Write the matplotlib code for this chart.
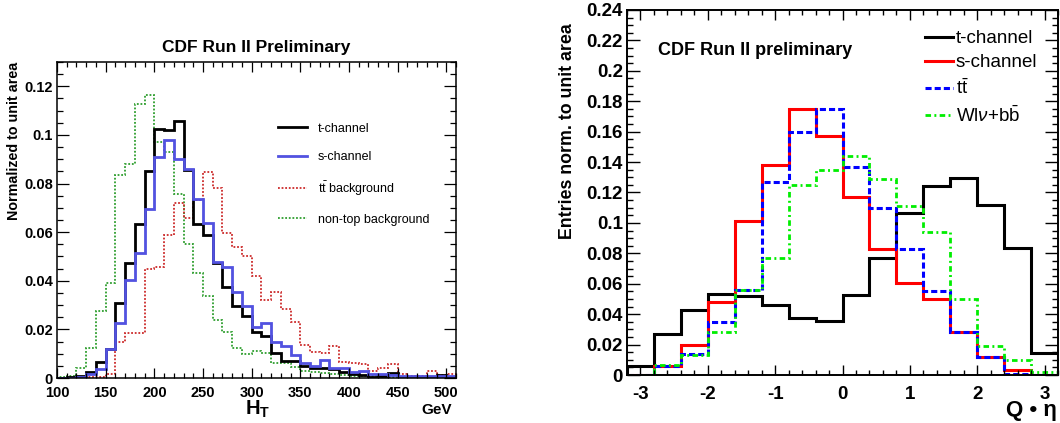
import numpy as np
import matplotlib
matplotlib.use('Agg')
import matplotlib.pyplot as plt
from matplotlib.ticker import MultipleLocator, FuncFormatter

plt.rcParams['font.family'] = 'Liberation Sans'
plt.rcParams['mathtext.fontset'] = 'custom'
plt.rcParams['mathtext.rm'] = 'Liberation Sans'
plt.rcParams['mathtext.it'] = 'Liberation Sans:italic'
plt.rcParams['mathtext.bf'] = 'Liberation Sans:bold'
plt.rcParams['axes.unicode_minus'] = False

# ---- left panel: H_T, 10 GeV bins from 100 to 510
ht_edges = np.arange(100, 520, 10)
ht_tchan = [0.0, 0.0003, 0.0010, 0.0024, 0.0065, 0.0118, 0.0310, 0.0474, 0.0633, 0.0852,
            0.1026, 0.1019, 0.1058, 0.0855, 0.0633, 0.0590, 0.0475, 0.0373, 0.0296, 0.0256,
            0.0188, 0.0173, 0.0101, 0.0071, 0.0071, 0.0050, 0.0042, 0.0040, 0.0036, 0.0023,
            0.0016, 0.0014, 0.0006, 0.0008, 0.0020, 0.0006, 0.0005, 0.0004, 0.0003, 0.0012,
            0.0004]
ht_schan = [0.0, 0.0, 0.0006, 0.0018, 0.0036, 0.0120, 0.0225, 0.0405, 0.0515, 0.0697,
            0.0910, 0.0978, 0.0903, 0.0859, 0.0738, 0.0638, 0.0478, 0.0458, 0.0352, 0.0296,
            0.0210, 0.0225, 0.0150, 0.0133, 0.0095, 0.0060, 0.0050, 0.0074, 0.0042, 0.0040,
            0.0026, 0.0028, 0.0016, 0.0016, 0.0012, 0.0008, 0.0010, 0.0009, 0.0008, 0.0008,
            0.0008]
ht_ttbar = [0.0, 0.0002, 0.0003, 0.0003, 0.0005, 0.0015, 0.0149, 0.0186, 0.0186, 0.0447,
            0.0455, 0.0590, 0.0720, 0.0660, 0.0734, 0.0848, 0.0780, 0.0595, 0.0540, 0.0500,
            0.0420, 0.0320, 0.0352, 0.0282, 0.0229, 0.0136, 0.0108, 0.0101, 0.0133, 0.0067,
            0.0063, 0.0056, 0.0029, 0.0042, 0.0056, 0.0015, 0.0008, 0.0010, 0.0030, 0.0012,
            0.0016]
ht_nontop = [0.0003, 0.0010, 0.0040, 0.0122, 0.0275, 0.0390, 0.0834, 0.0880, 0.1126, 0.1163,
             0.0970, 0.0930, 0.0756, 0.0550, 0.0430, 0.0337, 0.0238, 0.0190, 0.0125, 0.0099,
             0.0112, 0.0104, 0.0060, 0.0060, 0.0047, 0.0030, 0.0025, 0.0022, 0.0018, 0.0012,
             0.0010, 0.0008, 0.0007, 0.0006, 0.0005, 0.0005, 0.0004, 0.0003, 0.0003, 0.0002,
             0.0002]

# ---- right panel: Q*eta, 0.4 bins from -3.2 to 3.2
qeta_edges = np.linspace(-3.2, 3.2, 17)
qeta_tchan = [0.0061, 0.0267, 0.0427, 0.0530, 0.0520, 0.0460, 0.0373, 0.0357,
              0.0526, 0.0772, 0.1063, 0.1243, 0.1297, 0.1118, 0.0833, 0.0142]
qeta_schan = [0.0, 0.0060, 0.0200, 0.0480, 0.1010, 0.1380, 0.1750, 0.1570,
              0.1170, 0.0826, 0.0607, 0.0500, 0.0285, 0.0120, 0.0033, 0.0]
qeta_ttbar = [0.0, 0.0060, 0.0140, 0.0350, 0.0560, 0.1270, 0.1600, 0.1750,
              0.1370, 0.1100, 0.0830, 0.0555, 0.0280, 0.0116, 0.0005, 0.0]
qeta_wbb = [0.0, 0.0066, 0.0130, 0.0280, 0.0560, 0.0770, 0.1250, 0.1350,
            0.1440, 0.1290, 0.1110, 0.0940, 0.0500, 0.0190, 0.0100, 0.0018]

W, H = 1060, 423
fig = plt.figure(figsize=(W / 100, H / 100), dpi=100)

yfmt = FuncFormatter(lambda v, p: '%g' % round(v, 4))

# ================= left =================
ax1 = fig.add_axes([57 / W, 1 - 378 / H, (456 - 57) / W, (378 - 62) / H])
ax1.stairs(ht_nontop, ht_edges, color='#2e9e2e', lw=1.3, ls=(0, (1, 1)), label='non-top background')
ax1.stairs(ht_ttbar, ht_edges, color='#cc2a2a', lw=1.3, ls=(0, (1, 1)), label=r'$\mathrm{t\bar{t}}$ background')
ax1.stairs(ht_tchan, ht_edges, color='black', lw=2.0, label='t-channel')
ax1.stairs(ht_schan, ht_edges, color='#5252e0', lw=2.0, label='s-channel')
ax1.set_xlim(100, 510)
ax1.set_ylim(0, 0.13)
ax1.xaxis.set_major_locator(MultipleLocator(50))
ax1.xaxis.set_minor_locator(MultipleLocator(10))
ax1.yaxis.set_major_locator(MultipleLocator(0.02))
ax1.yaxis.set_minor_locator(MultipleLocator(0.005))
ax1.yaxis.set_major_formatter(yfmt)
ax1.tick_params(which='both', direction='in', top=True, right=True, width=0.9)
ax1.tick_params(axis='y', which='major', length=8.6, pad=3)
ax1.tick_params(axis='y', which='minor', length=4.3)
ax1.tick_params(axis='x', which='major', length=7, pad=5.5)
ax1.tick_params(axis='x', which='minor', length=3.6)
for lab in ax1.get_xticklabels() + ax1.get_yticklabels():
    lab.set_fontweight('bold')
    lab.set_fontsize(10.5)
for s in ax1.spines.values():
    s.set_linewidth(1.1)
ax1.set_title('CDF Run II Preliminary', fontsize=12.5, fontweight='bold', pad=7)

h, l = ax1.get_legend_handles_labels()
order = [2, 3, 1, 0]
ax1.legend([h[i] for i in order], [l[i] for i in order], loc='upper left',
           bbox_to_anchor=(0.554, 0.808), frameon=False, fontsize=9, borderpad=0,
           borderaxespad=0, handlelength=2.3, handletextpad=0.9, labelspacing=1.3)

fig.text(14 / W, 1 - 62 / H, 'Normalized to unit area', rotation=90, ha='center', va='top',
         fontsize=10.3, fontweight='bold')
fig.text(258 / W, 1 - 409 / H, r'$\mathbf{H_T}$', ha='center', va='center', fontsize=14.5)
fig.text(437 / W, 1 - 410 / H, 'GeV', ha='center', va='center', fontsize=11, fontweight='bold')

# ================= right =================
ax2 = fig.add_axes([627 / W, 1 - 375 / H, (1058 - 627) / W, (375 - 10) / H])
ax2.stairs(qeta_tchan, qeta_edges, color='black', lw=2.2, label='t-channel')
ax2.stairs(qeta_schan, qeta_edges, color='#ff0000', lw=2.2, label='s-channel')
ax2.stairs(qeta_ttbar, qeta_edges, color='#0000ff', lw=2.2, ls=(0, (2, 1)), label=r'$\mathrm{t\bar{t}}$')
ax2.stairs(qeta_wbb, qeta_edges, color='#00ee00', lw=2.0, ls=(0, (2, 1.2, 0.7, 1.2)),
           label=r'Wl$\nu$+b$\mathrm{\bar{b}}$')
ax2.set_xlim(-3.2, 3.2)
ax2.set_ylim(0, 0.24)
ax2.xaxis.set_major_locator(MultipleLocator(1))
ax2.xaxis.set_minor_locator(MultipleLocator(0.2))
ax2.yaxis.set_major_locator(MultipleLocator(0.02))
ax2.yaxis.set_minor_locator(MultipleLocator(0.005))
ax2.yaxis.set_major_formatter(yfmt)
ax2.tick_params(which='both', direction='in', top=True, right=True, width=1.0)
ax2.tick_params(axis='y', which='major', length=9.4, pad=3)
ax2.tick_params(axis='y', which='minor', length=4.3)
ax2.tick_params(axis='x', which='major', length=7, pad=8)
ax2.tick_params(axis='x', which='minor', length=3.6)
for lab in ax2.get_xticklabels() + ax2.get_yticklabels():
    lab.set_fontweight('bold')
    lab.set_fontsize(13.5)
for s in ax2.spines.values():
    s.set_linewidth(1.4)

ax2.text(0.072, 0.89, 'CDF Run II preliminary', transform=ax2.transAxes, ha='left', va='center',
         fontsize=13, fontweight='bold')
ax2.legend(loc='upper left', bbox_to_anchor=(0.691, 0.945), frameon=False, fontsize=13.5,
           borderpad=0, borderaxespad=0, handlelength=1.5, handletextpad=0.15, labelspacing=0.38)

fig.text(567 / W, 1 - 23 / H, 'Entries norm. to unit area', rotation=90, ha='center', va='top',
         fontsize=12.8, fontweight='bold')
fig.text(1057 / W, 1 - 410 / H, 'Q • η', ha='right', va='center', fontsize=16, fontweight='bold')

fig.savefig('out.png', dpi=100)
